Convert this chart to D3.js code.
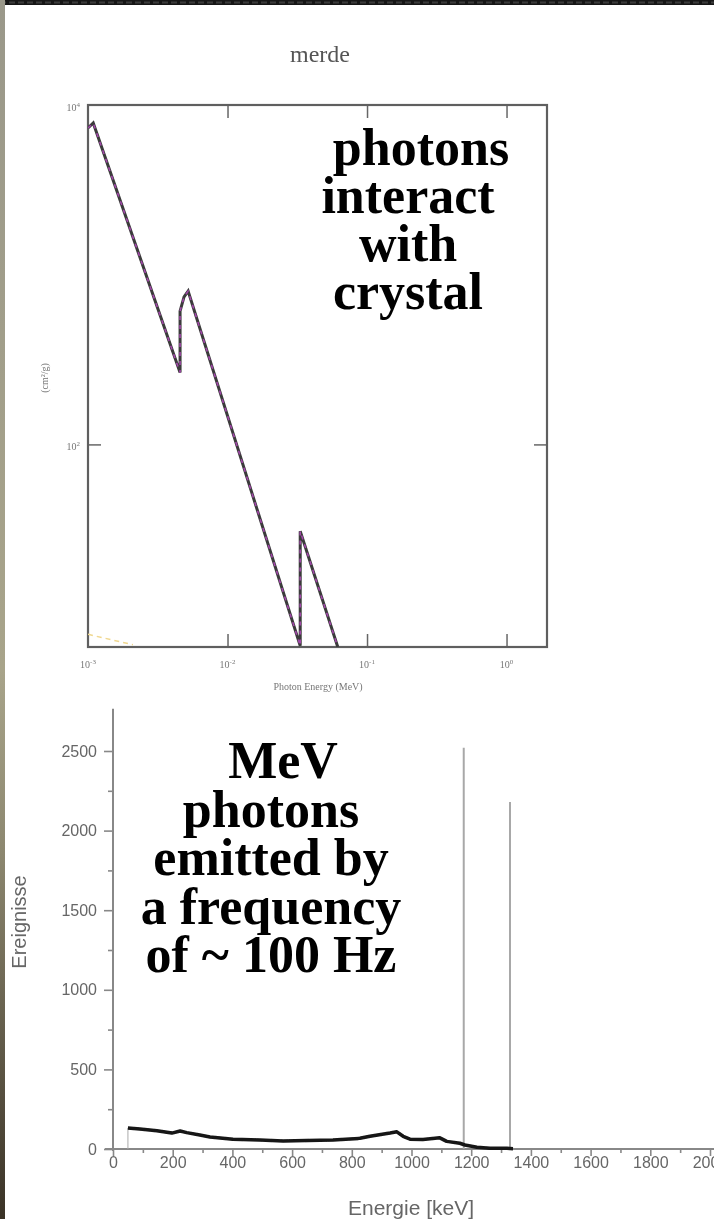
<!DOCTYPE html>
<html>
<head>
<meta charset="utf-8">
<script src="https://cdn.jsdelivr.net/npm/d3@7"></script>
<style>
  body { margin: 0; background: #fff; }
  svg { display: block; }
</style>
</head>
<body>
<div id="wrapper"></div>
<script>
// top chart: attenuation curve (log-log)
const attEnergy = [0.001, 0.00109, 0.00457, 0.00457, 0.00488, 0.00522, 0.0332, 0.0332, 0.0617]
const attValue = [7320, 7830, 265, 610, 740, 800, 6.5, 30.8, 6.4]
const cohEnergy = [0.001, 0.0021]
const cohValue = [7.6, 6.6]
const attXTicks = [1e-3, 1e-2, 1e-1, 1e0]
const attXExp = ["-3", "-2", "-1", "0"]
const attYTicks = [1e4, 1e2]
const attYExp = ["4", "2"]

// bottom chart: gamma spectrum
const specEnergy = [50, 90, 147, 197, 225, 247, 291, 325, 402, 492, 570, 650, 737, 794, 827, 861, 928, 951, 972, 995, 1038, 1095, 1118, 1162, 1179, 1219, 1263, 1320, 1340]
const specCounts = [132, 126, 115, 100, 113, 103, 88, 75, 61, 57, 50, 53, 57, 63, 67, 80, 100, 108, 80, 62, 60, 70, 48, 36, 25, 11, 5, 4, 2]
const peakEnergy = [1175, 1330]
const peakCounts = [2520, 2180]
const specYTicks = [0, 500, 1000, 1500, 2000, 2500]
const specYMinor = [250, 750, 1250, 1750, 2250]
const specXTicks = [0, 200, 400, 600, 800, 1000, 1200, 1400, 1600, 1800, 2000]
const specXMinor = [100, 300, 500, 700, 900, 1100, 1300, 1500, 1700, 1900]

const topText = ["photons", "interact", "with", "crystal"]
const bottomText = ["MeV", "photons", "emitted by", "a frequency", "of ~ 100 Hz"]

const width = 714
const height = 1219

const svg = d3.select("#wrapper")
  .append("svg")
  .attr("width", width)
  .attr("height", height)

const defs = svg.append("defs")
defs.append("filter").attr("id", "soft")
  .append("feGaussianBlur").attr("stdDeviation", 0.55)
const grad = defs.append("linearGradient").attr("id", "edge")
  .attr("x1", 0).attr("x2", 0).attr("y1", 0).attr("y2", 1)
grad.append("stop").attr("offset", "0%").attr("stop-color", "#9a988a")
grad.append("stop").attr("offset", "55%").attr("stop-color", "#a8a48a")
grad.append("stop").attr("offset", "70%").attr("stop-color", "#8c876f")
grad.append("stop").attr("offset", "100%").attr("stop-color", "#3a3226")
defs.append("clipPath").attr("id", "topclip")
  .append("rect").attr("x", 88).attr("y", 105).attr("width", 459).attr("height", 542)

// slide edges
svg.append("rect").attr("x", 0).attr("y", 0).attr("width", width).attr("height", 5).attr("fill", "#161616")
svg.append("line").attr("x1", 0).attr("x2", width).attr("y1", 2.5).attr("y2", 2.5)
  .attr("stroke", "#3c3c3c").attr("stroke-width", 2).attr("stroke-dasharray", "6,3")
svg.append("rect").attr("x", 0).attr("y", 0).attr("width", 5).attr("height", height).attr("fill", "url(#edge)")

// ---------------- top chart ----------------
const topChart = svg.append("g").attr("filter", "url(#soft)")

topChart.append("text")
  .attr("x", 320).attr("y", 62)
  .attr("text-anchor", "middle")
  .style("font-family", "'Liberation Serif', serif")
  .style("font-size", "24px")
  .attr("fill", "#555")
  .text("merde")

const xTop = d3.scaleLog().domain([1e-3, 1.95]).range([88, 547])
const yTop = d3.scaleLog().domain([6.4, 1e4]).range([647, 105])

const tickStyle = g => {
  g.select(".domain").remove()
  g.selectAll(".tick line").attr("stroke", "#666").attr("stroke-width", 1.5)
}
topChart.append("g").attr("transform", "translate(0,647)")
  .call(d3.axisBottom(xTop).tickValues(attXTicks.slice(1)).tickSize(-13).tickFormat(""))
  .call(tickStyle)
topChart.append("g").attr("transform", "translate(0,105)")
  .call(d3.axisTop(xTop).tickValues(attXTicks.slice(1)).tickSize(-13).tickFormat(""))
  .call(tickStyle)
topChart.append("g").attr("transform", "translate(88,0)")
  .call(d3.axisLeft(yTop).tickValues([1e2]).tickSize(-13).tickFormat(""))
  .call(tickStyle)
topChart.append("g").attr("transform", "translate(547,0)")
  .call(d3.axisRight(yTop).tickValues([1e2]).tickSize(-13).tickFormat(""))
  .call(tickStyle)

topChart.append("rect")
  .attr("x", xTop.range()[0]).attr("y", yTop.range()[1])
  .attr("width", xTop.range()[1] - xTop.range()[0])
  .attr("height", yTop.range()[0] - yTop.range()[1])
  .attr("fill", "none").attr("stroke", "#5e5e5e").attr("stroke-width", 2.2)

const serifSmall = sel => sel
  .style("font-family", "'Liberation Serif', serif")
  .style("font-size", "10px")
  .attr("fill", "#777")

attXTicks.forEach((v, i) => {
  const t = topChart.append("text").attr("x", xTop(v)).attr("y", 668)
    .attr("text-anchor", "middle").call(serifSmall).text("10")
  t.append("tspan").attr("dy", -4).style("font-size", "7px").text(attXExp[i])
})
attYTicks.forEach((v, i) => {
  const t = topChart.append("text").attr("x", 80).attr("y", yTop(v) + 6)
    .attr("text-anchor", "end").call(serifSmall).text("10")
  t.append("tspan").attr("dy", -4).style("font-size", "7px").text(attYExp[i])
})
topChart.append("text").attr("x", 318).attr("y", 690)
  .attr("text-anchor", "middle").call(serifSmall).text("Photon Energy (MeV)")
topChart.append("text").attr("transform", "translate(48,378) rotate(-90)")
  .attr("text-anchor", "middle").call(serifSmall).text("(cm²/g)")

const attLine = d3.line()
  .x(d => xTop(d[0]))
  .y(d => yTop(d[1]))

const curves = topChart.append("g").attr("clip-path", "url(#topclip)")
curves.append("path")
  .datum(d3.zip(cohEnergy, cohValue))
  .attr("d", attLine)
  .attr("fill", "none").attr("stroke", "#f0d890").attr("stroke-width", 1.5)
  .attr("stroke-dasharray", "5,4")
curves.append("path")
  .datum(d3.zip(attEnergy, attValue))
  .attr("d", attLine)
  .attr("fill", "none").attr("stroke", "#3a3a3a").attr("stroke-width", 3)
curves.append("path")
  .datum(d3.zip(attEnergy, attValue))
  .attr("d", attLine)
  .attr("fill", "none").attr("stroke", "#a046a8").attr("stroke-width", 1.6)
  .attr("stroke-dasharray", "4,5")

// ---------------- bottom chart ----------------
const botChart = svg.append("g").attr("filter", "url(#soft)")

const xBot = d3.scaleLinear().domain([0, 2000]).range([113, 710])
const yBot = d3.scaleLinear().domain([0, 2500]).range([1149, 751])

const sans = sel => sel
  .style("font-family", "'Liberation Sans', Arial, sans-serif")
  .attr("fill", "#666")

const axisStyle = g => {
  g.select(".domain").remove()
  g.selectAll(".tick line").attr("stroke", "#888").attr("stroke-width", 1.6)
  g.selectAll(".tick text").call(sans).style("font-size", "16px")
}

botChart.append("g").attr("transform", "translate(113,0)")
  .call(d3.axisLeft(yBot).tickValues(specYTicks).tickFormat(d3.format("d")).tickSize(9).tickPadding(7))
  .call(axisStyle)
botChart.append("g").attr("transform", "translate(113,0)")
  .call(d3.axisLeft(yBot).tickValues(specYMinor).tickSize(5).tickFormat(""))
  .call(axisStyle)
botChart.append("g").attr("transform", "translate(0,1149)")
  .call(d3.axisBottom(xBot).tickValues(specXTicks).tickFormat(d3.format("d")).tickSize(7).tickPadding(1))
  .call(axisStyle)
botChart.append("g").attr("transform", "translate(0,1149)")
  .call(d3.axisBottom(xBot).tickValues(specXMinor).tickSize(4).tickFormat(""))
  .call(axisStyle)

// axis lines
botChart.append("line")
  .attr("x1", xBot(0)).attr("x2", xBot(0))
  .attr("y1", yBot(0) + 2).attr("y2", yBot(2765))
  .attr("stroke", "#888").attr("stroke-width", 2)
botChart.append("line")
  .attr("x1", xBot(-27)).attr("x2", width)
  .attr("y1", yBot(0)).attr("y2", yBot(0))
  .attr("stroke", "#888").attr("stroke-width", 2)

// photopeaks
botChart.selectAll(".peak")
  .data(d3.zip(peakEnergy, peakCounts))
  .join("line")
  .attr("class", "peak")
  .attr("x1", d => xBot(d[0])).attr("x2", d => xBot(d[0]))
  .attr("y1", yBot(0)).attr("y2", d => yBot(d[1]))
  .attr("stroke", "#a8a8a8").attr("stroke-width", 2)

// spectrum
botChart.append("line")
  .attr("x1", xBot(specEnergy[0])).attr("x2", xBot(specEnergy[0]))
  .attr("y1", yBot(0)).attr("y2", yBot(specCounts[0]))
  .attr("stroke", "#aaa").attr("stroke-width", 1)
botChart.append("path")
  .datum(d3.zip(specEnergy, specCounts))
  .attr("d", d3.line().x(d => xBot(d[0])).y(d => yBot(d[1])))
  .attr("fill", "none").attr("stroke", "#141414").attr("stroke-width", 3.5)
  .attr("stroke-linejoin", "round")

botChart.append("text")
  .attr("transform", "translate(26,922) rotate(-90)")
  .attr("text-anchor", "middle")
  .call(sans).style("font-size", "20px")
  .text("Ereignisse")
botChart.append("text")
  .attr("x", 411).attr("y", 1215)
  .attr("text-anchor", "middle")
  .call(sans).style("font-size", "21px")
  .text("Energie [keV]")

// ---------------- overlay captions ----------------
const caption = sel => sel
  .style("font-family", "'Liberation Serif', 'Times New Roman', serif")
  .style("font-weight", "bold")
  .style("font-size", "52px")
  .attr("fill", "#000")
  .attr("text-anchor", "middle")

svg.append("g").selectAll("text")
  .data(topText)
  .join("text")
  .attr("x", (d, i) => i === 0 ? 421 : 408)
  .attr("y", (d, i) => 165 + i * 48)
  .call(caption)
  .text(d => d)

svg.append("g").selectAll("text")
  .data(bottomText)
  .join("text")
  .attr("x", (d, i) => i === 0 ? 283 : 271)
  .attr("y", (d, i) => 778 + i * 48.5)
  .call(caption)
  .text(d => d)
</script>
</body>
</html>
